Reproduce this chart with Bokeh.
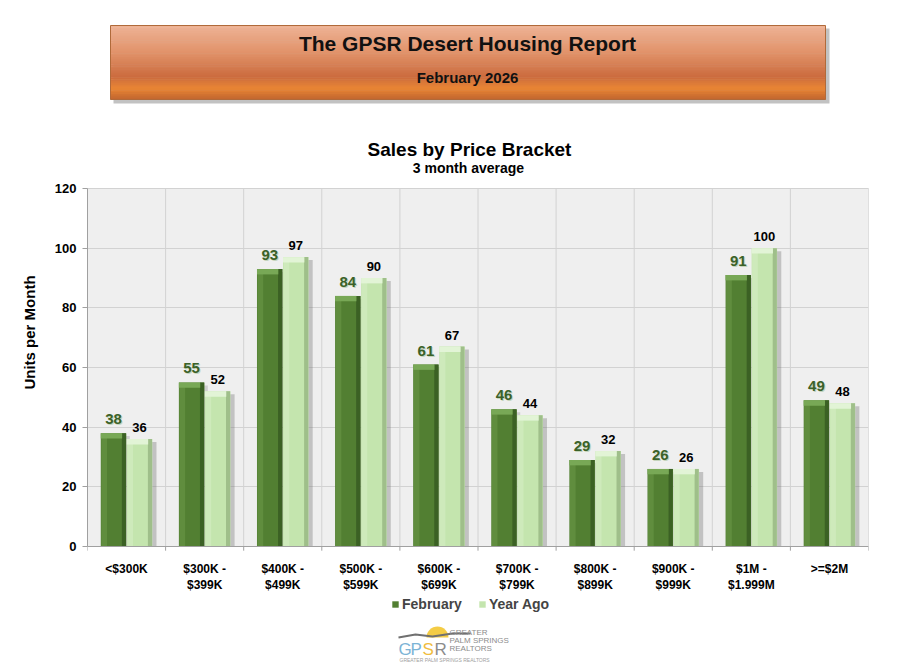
import numpy as np
from bokeh.plotting import figure
from bokeh.models import (Range1d, FixedTicker, LabelSet, ColumnDataSource,
                          Legend, LegendItem, LinearAxis)
from bokeh.core.properties import value
from bokeh.embed import file_html
from bokeh.resources import INLINE

# --- data ---
brackets = ["<$300K", "$300K -\n$399K", "$400K -\n$499K", "$500K -\n$599K",
            "$600K -\n$699K", "$700K -\n$799K", "$800K -\n$899K",
            "$900K -\n$999K", "$1M -\n$1.999M", ">=$2M"]
february = [38, 55, 93, 84, 61, 46, 29, 26, 91, 49]
year_ago = [36, 52, 97, 90, 67, 44, 32, 26, 100, 48]
y_ticks = [0, 20, 40, 60, 80, 100, 120]

FONT = value("Liberation Sans")
W, H = 912, 664
# frame: page x 87..868 holds the 10 brackets, page y 188..546 holds 0..120
PX_X0, PX_X1 = 87, 868
PX_Y0, PX_UNIT = 546, 358 / 120
PX_CAT = (PX_X1 - PX_X0) / len(brackets)


def dx(px):  # page pixel -> data x (for decorations only)
    return (px - PX_X0) / PX_CAT


def dy(py):  # page pixel -> data y (for decorations only)
    return (PX_Y0 - py) / PX_UNIT


ncat = len(brackets)
p = figure(width=W, height=H, x_range=Range1d(0, ncat),
           y_range=Range1d(dy(H), dy(0)), x_axis_location=None,
           toolbar_location=None, output_backend="svg",
           min_border_top=0, min_border_bottom=0, min_border_left=PX_X0,
           min_border_right=W - PX_X1,
           background_fill_color="white", outline_line_color=None)
p.xgrid.visible = False

# --- header banner with gradient ---
stops = [(0.0, (238, 178, 148)), (0.35, (226, 148, 108)), (0.7, (204, 108, 62)),
         (0.86, (234, 134, 52)), (1.0, (196, 104, 48))]
n = 40
b_top, b_bot, b_left, b_right = 25, 99, 110, 825
p.quad(left=[dx(b_left + 3)], right=[dx(b_right + 4)], top=[dy(b_top + 3)],
       bottom=[dy(b_bot + 4)], fill_color="#9a9a9a", line_color=None, alpha=0.6)
tops, bots, cols = [], [], []
for k in range(n):
    t = k / (n - 1)
    for (t0, c0), (t1, c1) in zip(stops[:-1], stops[1:]):
        if t0 <= t <= t1:
            f = (t - t0) / (t1 - t0)
            c = tuple(int(a + (b - a) * f) for a, b in zip(c0, c1))
            break
    tops.append(dy(b_top + (b_bot - b_top) * k / n))
    bots.append(dy(b_top + (b_bot - b_top) * (k + 1) / n + 0.5))
    cols.append("#%02x%02x%02x" % c)
p.quad(left=dx(b_left), right=dx(b_right), top=tops, bottom=bots, fill_color=cols,
       line_color=None)
p.quad(left=[dx(b_left)], right=[dx(b_right)], top=[dy(b_top)], bottom=[dy(b_bot)],
       fill_color=None, line_color="#b06a3a", line_width=1)


def page_text(px, py, txt, size, bold=True, color="#000000", align="center"):
    p.text(x=[dx(px)], y=[dy(py)], text=[txt], text_font=FONT,
           text_font_style="bold" if bold else "normal", text_font_size=size,
           text_align=align, text_baseline="middle", text_color=color)


page_text(467, 43, "The GPSR Desert Housing Report", "21px", color="#111111")
page_text(467, 77, "February 2026", "15px", color="#111111")
page_text(469, 149, "Sales by Price Bracket", "19px")
page_text(468, 167, "3 month average", "14px")

# --- plot area background and grid ---
p.quad(left=[0], right=[ncat], bottom=[0], top=[y_ticks[-1]], fill_color="#efefef",
       line_color="#c4c4c4", level="underlay")
p.ygrid.ticker = FixedTicker(ticks=y_ticks[1:])
p.ygrid.grid_line_color = "#d2d2d2"
p.ygrid.bounds = (0, y_ticks[-1])
p.ygrid.level = "underlay"
p.segment(x0=np.arange(1, ncat), x1=np.arange(1, ncat), y0=0, y1=y_ticks[-1],
          line_color="#d2d2d2", level="underlay")
p.segment(x0=np.arange(0, ncat + 1), x1=np.arange(0, ncat + 1), y0=0, y1=-1.4,
          line_color="#a0a0a0")

# --- bars ---
xc = np.arange(ncat) + 0.5
w = 1 / 3
x_feb = xc - w / 2
x_ya = xc + w / 2
feb = np.array(february, dtype=float)
ya = np.array(year_ago, dtype=float)

src = ColumnDataSource(dict(x_feb=x_feb, x_ya=x_ya, feb=feb, ya=ya,
                            feb_t=[str(v) for v in february],
                            ya_t=[str(v) for v in year_ago]))

p.vbar(x=x_ya + 0.05, width=w, top=ya - 1, bottom=0, fill_color="#707070",
       line_color=None, alpha=0.35)
p.vbar(x=x_feb + 0.04, width=w, top=feb - 1, bottom=0, fill_color="#707070",
       line_color=None, alpha=0.25)


def bar3d(x, top, base, left_c, right_c, cap_c):
    r = p.vbar(x=x, width=w * 0.98, top=top, bottom=0, fill_color=base, line_color=None)
    p.vbar(x=x - w * 0.36, width=w * 0.22, top=top - 1.6, bottom=0, fill_color=left_c,
           line_color=None, alpha=0.5)
    p.vbar(x=x + w * 0.40, width=w * 0.16, top=top, bottom=0, fill_color=right_c,
           line_color=None)
    p.vbar(x=x - w * 0.08, width=w * 0.82, top=top, bottom=top - 1.8, fill_color=cap_c,
           line_color=None)
    return r


r_feb = bar3d(x_feb, feb, "#527f32", "#6d9c4a", "#3b6124", "#78a856")
r_ya = bar3d(x_ya, ya, "#c4e5ae", "#d8f0c8", "#9fbf8a", "#e2f4d6")

# value labels
p.add_layout(LabelSet(x="x_feb", y="feb", text="feb_t", source=src, x_offset=1,
                      y_offset=8, text_align="center", text_baseline="bottom",
                      text_font=FONT, text_font_style="bold", text_font_size="15px",
                      text_color="#c4d4bc"))
p.add_layout(LabelSet(x="x_feb", y="feb", text="feb_t", source=src, y_offset=9,
                      text_align="center", text_baseline="bottom", text_font=FONT,
                      text_font_style="bold", text_font_size="15px",
                      text_color="#3b6128"))
p.add_layout(LabelSet(x="x_ya", y="ya", text="ya_t", source=src, y_offset=7,
                      text_align="center", text_baseline="bottom", text_font=FONT,
                      text_font_style="bold", text_font_size="13px",
                      text_color="#000000"))

# --- axes ---
p.yaxis.ticker = FixedTicker(ticks=y_ticks)
p.yaxis.bounds = (0, y_ticks[-1])
p.yaxis.axis_label = "Units per Month"
p.yaxis.axis_label_text_font = "Liberation Sans"
p.yaxis.axis_label_text_font_style = "bold"
p.yaxis.axis_label_text_font_size = "15px"
p.yaxis.axis_label_text_color = "#000000"
p.yaxis.axis_label_standoff = 14
p.yaxis.major_label_text_font = "Liberation Sans"
p.yaxis.major_label_text_font_style = "bold"
p.yaxis.major_label_text_font_size = "13px"
p.yaxis.major_label_text_color = "#000000"
p.yaxis.major_label_standoff = 6
p.yaxis.minor_tick_line_color = None
p.yaxis.major_tick_out = 5
p.yaxis.major_tick_in = 0
p.yaxis.major_tick_line_color = "#a0a0a0"
p.yaxis.axis_line_color = "#a0a0a0"

xaxis = LinearAxis(fixed_location=0, ticker=FixedTicker(ticks=list(xc)),
                   major_label_overrides={float(x): lab for x, lab in zip(xc, brackets)},
                   major_label_text_font="Liberation Sans",
                   major_label_text_font_style="bold",
                   major_label_text_font_size="12px", major_label_text_color="#000000",
                   major_label_standoff=9, major_tick_line_color=None,
                   minor_tick_line_color=None, axis_line_color="#a0a0a0")
p.add_layout(xaxis, "below")

legend = Legend(items=[LegendItem(label="February", renderers=[r_feb]),
                       LegendItem(label="Year Ago", renderers=[r_ya])],
                orientation="horizontal", location=(304, 52),
                label_text_font="Liberation Sans", label_text_font_style="bold",
                label_text_font_size="14px", glyph_width=8, glyph_height=8,
                spacing=16, label_standoff=3, border_line_color=None,
                background_fill_alpha=0, margin=0, padding=2)
p.add_layout(legend)

# --- logo ---
p.wedge(x=[dx(437)], y=[dy(637)], radius=11 / PX_CAT, radius_units="data",
        start_angle=0, end_angle=np.pi, fill_color="#f4cc45", line_color=None)
p.line(x=[dx(px) for px in [398, 415, 432, 452, 470]],
       y=[dy(py) for py in [637, 634, 636, 633, 633]], line_color="#707070", line_width=2)
p.text(x=[dx(px) for px in [398, 410, 422, 434]], y=[dy(649)] * 4,
       text=["G", "P", "S", "R"], text_font=FONT, text_font_size="17px",
       text_baseline="middle",
       text_color=["#7cb4d6", "#7cb4d6", "#f0bd40", "#8c8c8c"])
p.text(x=[dx(449)] * 3, y=[dy(py) for py in [632, 640, 648]],
       text=["GREATER", "PALM SPRINGS", "REALTORS"], text_font=FONT,
       text_font_size="8px", text_baseline="middle", text_color="#8c8c8c")
p.text(x=[dx(399)], y=[dy(659)], text=["GREATER PALM SPRINGS REALTORS"], text_font=FONT,
       text_font_size="5px", text_baseline="middle", text_color="#a0a0a0")

open("out.html", "w").write(file_html(p, INLINE))
